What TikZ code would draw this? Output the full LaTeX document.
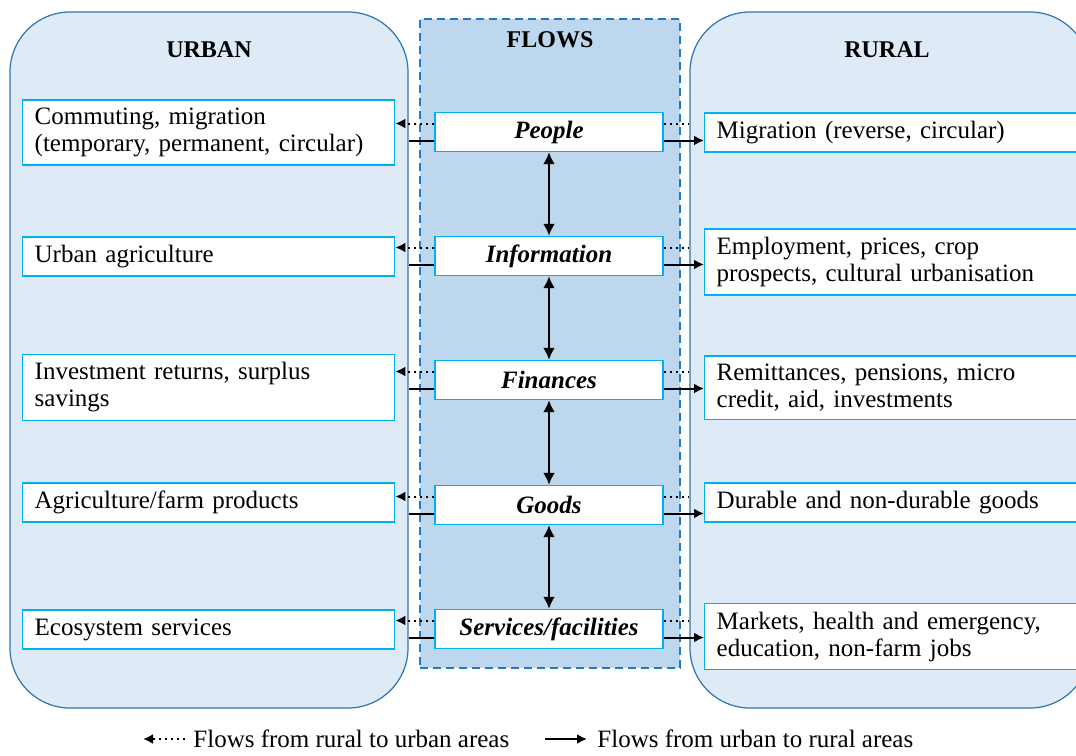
\documentclass[tikz,border=0pt]{standalone}
\usepackage{fontspec}
\setmainfont{Liberation Serif}
\usepackage{xcolor}
\usepackage{tikz}
\usetikzlibrary{arrows.meta,positioning}

\definecolor{areafill}{HTML}{DEEAF6}
\definecolor{arealine}{HTML}{2E75B6}
\definecolor{flowfill}{HTML}{BDD7EE}
\definecolor{flowline}{HTML}{1F7BC8}
\definecolor{itemline}{HTML}{00B0F0}

\begin{document}
\begin{tikzpicture}[
    x=0.5pt, y=-0.5pt,
    area/.style={rectangle, draw=arealine, fill=areafill, line width=0.6pt, rounded corners=30pt},
    flowarea/.style={rectangle, draw=flowline, fill=flowfill, line width=1.1pt, dash pattern=on 4pt off 2.5pt},
    title/.style={font=\fontsize{12}{14}\selectfont\bfseries},
    item/.style={rectangle, draw=itemline, fill=white, line width=0.7pt, align=left, text width=174pt, minimum height=19.5pt, inner xsep=6pt, inner ysep=4pt, anchor=west, font=\fontsize{12.5}{13.5}\selectfont},
    flow/.style={rectangle, draw=itemline, fill=white, line width=0.7pt, minimum width=114pt, minimum height=19.5pt, inner sep=2pt, font=\fontsize{12.5}{14}\selectfont\bfseries\itshape},
    legend/.style={anchor=west, inner sep=0pt, font=\fontsize{12.5}{14}\selectfont},
    rtou/.style={dotted, line width=1pt, -{Latex[length=5pt, width=5pt]}},
    utor/.style={line width=1pt, -{Latex[length=5pt, width=5pt]}},
    link/.style={line width=1pt},
    both/.style={{Latex[length=6pt, width=6pt]}-{Latex[length=6pt, width=6pt]}, line width=1.3pt}
]
\useasboundingbox (0,0) rectangle (1076,755);
\clip (0,0) rectangle (1076,755);

% the three areas
\node[area, minimum width=199pt, minimum height=348pt] (urban) at (209,360) {};
\node[area, minimum width=200pt, minimum height=348pt] (rural) at (890,360) {};
\node[flowarea, minimum width=130pt, minimum height=324.5pt] (flows) at (550,343.5) {};
\node[title] (urbantitle) at (209,50) {URBAN};
\node[title] (flowstitle) at (550,40) {FLOWS};
\node[title] (ruraltitle) at (887,50) {RURAL};

% flow types
\node[flow] (people) at (549,132) {People};
\node[flow] (info) at (549,256) {Information};
\node[flow] (finance) at (549,380) {Finances};
\node[flow] (goods) at (549,505) {Goods};
\node[flow] (services) at (549,629) {Services/facilities};

% urban side
\node[item] (commuting) at (22,132.5) {Commuting, migration\\(temporary, permanent, circular)};
\node[item] (urbagri) at (22,256.5) {Urban agriculture};
\node[item] (returns) at (22,387.5) {Investment returns, surplus\\savings};
\node[item] (farm) at (22,502.5) {Agriculture/farm products};
\node[item] (ecosys) at (22,629.5) {Ecosystem services};

% rural side
\node[item, text width=180pt] (migration) at (704,132.5) {Migration (reverse, circular)};
\node[item, text width=180pt] (employ) at (704,262) {Employment, prices, crop\\prospects, cultural urbanisation};
\node[item, text width=180pt] (remit) at (704,387.5) {Remittances, pensions, micro\\credit, aid, investments};
\node[item, text width=180pt] (durable) at (704,502.5) {Durable and non-durable goods};
\node[item, text width=180pt] (markets) at (704,636.5) {Markets, health and emergency,\\education, non-farm jobs};

% people
\draw[rtou] ([yshift=4.25pt]people.west) -- ([yshift=4.25pt]people.west -| commuting.east);
\draw[link] ([yshift=-4.25pt]people.west) -- ([yshift=-4.25pt]people.west -| urban.east);
\draw[link, dotted] ([yshift=4.25pt]people.east) -- ([yshift=4.25pt]people.east -| rural.west);
\draw[utor] ([yshift=-4.25pt]people.east) -- ([yshift=-4.25pt]people.east -| migration.west);
% information
\draw[rtou] ([yshift=4.25pt]info.west) -- ([yshift=4.25pt]info.west -| urbagri.east);
\draw[link] ([yshift=-4.25pt]info.west) -- ([yshift=-4.25pt]info.west -| urban.east);
\draw[link, dotted] ([yshift=4.25pt]info.east) -- ([yshift=4.25pt]info.east -| rural.west);
\draw[utor] ([yshift=-4.25pt]info.east) -- ([yshift=-4.25pt]info.east -| employ.west);
% finances
\draw[rtou] ([yshift=4.25pt]finance.west) -- ([yshift=4.25pt]finance.west -| returns.east);
\draw[link] ([yshift=-4.25pt]finance.west) -- ([yshift=-4.25pt]finance.west -| urban.east);
\draw[link, dotted] ([yshift=4.25pt]finance.east) -- ([yshift=4.25pt]finance.east -| rural.west);
\draw[utor] ([yshift=-4.25pt]finance.east) -- ([yshift=-4.25pt]finance.east -| remit.west);
% goods
\draw[rtou] ([yshift=4.25pt]goods.west) -- ([yshift=4.25pt]goods.west -| farm.east);
\draw[link] ([yshift=-4.25pt]goods.west) -- ([yshift=-4.25pt]goods.west -| urban.east);
\draw[link, dotted] ([yshift=4.25pt]goods.east) -- ([yshift=4.25pt]goods.east -| rural.west);
\draw[utor] ([yshift=-4.25pt]goods.east) -- ([yshift=-4.25pt]goods.east -| durable.west);
% services
\draw[rtou] ([yshift=4.25pt]services.west) -- ([yshift=4.25pt]services.west -| ecosys.east);
\draw[link] ([yshift=-4.25pt]services.west) -- ([yshift=-4.25pt]services.west -| urban.east);
\draw[link, dotted] ([yshift=4.25pt]services.east) -- ([yshift=4.25pt]services.east -| rural.west);
\draw[utor] ([yshift=-4.25pt]services.east) -- ([yshift=-4.25pt]services.east -| markets.west);

% links between flow types
\draw[both] (people) -- (info);
\draw[both] (info) -- (finance);
\draw[both] (finance) -- (goods);
\draw[both] (goods) -- (services);

% key
\node[legend] (keyrtou) at (193,739) {Flows from rural to urban areas};
\node[legend] (keyutor) at (597,739) {Flows from urban to rural areas};
\draw[rtou] ([xshift=-4pt]keyrtou.west) -- ++(-21pt,0);
\draw[utor] ([xshift=-26pt]keyutor.west) -- ++(21pt,0);
\end{tikzpicture}
\end{document}
